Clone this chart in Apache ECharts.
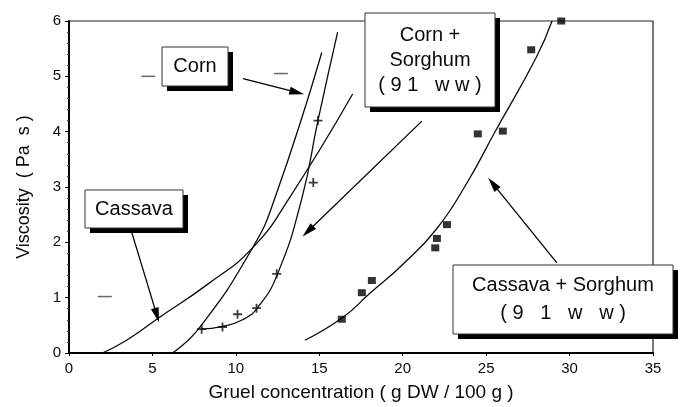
<!DOCTYPE html>
<html>
<head>
<meta charset="utf-8">
<script src="https://cdn.jsdelivr.net/npm/echarts@6/dist/echarts.min.js"></script>
<style>
  html, body { margin: 0; background: #fff; }
  #chart { width: 691px; height: 407px; }
</style>
</head>
<body>
<div id="chart"></div>
<script>
// values (x = g DW / 100 g, y = Pa s)
const cassavaCurve = [[2, 0], [3.45, 0.23], [5.45, 0.65], [8.3, 1.24], [11, 1.9], [13.2, 2.8], [17, 4.68]]
const cornCurve = [[6.2, 0], [7.8, 0.45], [11, 1.9], [12.34, 2.8], [15.15, 5.43]]
const cornSorghumCurve = [[7.9, 0.43], [9.2, 0.48], [10.4, 0.6], [11.3, 0.82], [12.5, 1.43], [13.96, 2.8], [14.92, 4.2], [16.1, 5.8]]
const cornSorghumPoints = [[7.95, 0.43], [9.2, 0.47], [10.1, 0.7], [11.24, 0.81], [12.45, 1.43], [14.64, 3.08], [14.92, 4.2]]
const cassavaSorghumCurve = [[14.14, 0.23], [16.4, 0.64], [18.03, 1.08], [20, 1.6], [22.05, 2.25], [23.9, 3.1], [25.5, 3.98], [28, 5.34], [28.95, 6]]
const cassavaSorghumPoints = [[16.35, 0.61], [17.55, 1.09], [18.15, 1.31], [21.95, 1.9], [22.05, 2.07], [22.65, 2.32], [24.5, 3.96], [26, 4.01], [27.7, 5.48], [29.5, 6.0]]
const strayDashes = [[4.75, 5.0], [2.15, 1.02], [12.7, 5.05]]

// annotation arrows: [from, to] in data units
const arrows = [
  [[10.43, 4.96], [13.66, 4.71]],
  [[3.77, 2.17], [5.27, 0.68]],
  [[21.15, 4.19], [14.32, 2.2]],
  [[29.24, 1.63], [25.4, 3.06]],
]

const xTicks = { min: 0, max: 35, step: 5 }
const yTicks = { min: 0, max: 6, step: 1 }

const font = "'Liberation Sans', Arial, sans-serif"
const ink = '#0a0a0a'

const plus = 'path://M4,0h2v4h4v2h-4v4h-2v-4h-4v-2h4z'

function box(x, y, w, h, lines, lineGap) {
  const children = [
    { type: 'rect', shape: { x: x + 5, y: y + 5, width: w, height: h }, style: { fill: '#000' } },
    { type: 'rect', shape: { x, y, width: w, height: h }, style: { fill: '#fff', stroke: '#333', lineWidth: 1 } },
  ]
  const top = y + h / 2 - (lines.length - 1) * lineGap / 2
  lines.forEach((text, i) => {
    children.push({
      type: 'text',
      x: x + w / 2,
      y: top + i * lineGap,
      style: { text, fill: ink, font: `20px ${font}`, align: 'center', verticalAlign: 'middle' },
    })
  })
  return { type: 'group', children }
}

const axisLabel = { color: ink, fontSize: 15, fontFamily: font }

const lineSeries = (name, data) => ({
  name,
  type: 'line',
  data,
  smooth: 0.5,
  showSymbol: false,
  silent: true,
  lineStyle: { color: ink, width: 1.3 },
  z: 3,
})

const chart = echarts.init(document.getElementById('chart'), null, { renderer: 'canvas' })
chart.setOption({
  animation: false,
  backgroundColor: '#fff',
  grid: { left: 69, right: 38, top: 21, bottom: 51, show: true, borderColor: '#222', borderWidth: 1.2 },
  xAxis: {
    type: 'value',
    min: xTicks.min,
    max: xTicks.max,
    interval: xTicks.step,
    name: 'Gruel concentration ( g DW / 100 g )',
    nameLocation: 'middle',
    nameGap: 30,
    nameTextStyle: { color: ink, fontSize: 19, fontFamily: font },
    axisLine: { lineStyle: { color: '#000', width: 2 } },
    axisTick: { show: true, length: 3, lineStyle: { color: '#000' } },
    axisLabel: { ...axisLabel, margin: 8 },
    splitLine: { show: false },
  },
  yAxis: {
    type: 'value',
    min: yTicks.min,
    max: yTicks.max,
    interval: yTicks.step,
    name: 'Viscosity  ( Pa  s )',
    nameLocation: 'middle',
    nameGap: 36,
    nameTextStyle: { color: ink, fontSize: 18, fontFamily: font },
    axisLine: { lineStyle: { color: '#000', width: 2 } },
    axisTick: { show: true, length: 4, lineStyle: { color: '#000' } },
    minorTick: { show: true, splitNumber: 5, length: 2, lineStyle: { color: '#333' } },
    axisLabel: { ...axisLabel, margin: 8 },
    splitLine: { show: false },
  },
  series: [
    lineSeries('Cassava', cassavaCurve),
    lineSeries('Corn', cornCurve),
    lineSeries('Corn + Sorghum', cornSorghumCurve),
    lineSeries('Cassava + Sorghum', cassavaSorghumCurve),
    {
      name: 'Corn + Sorghum points',
      type: 'scatter',
      data: cornSorghumPoints,
      symbol: plus,
      symbolSize: 9,
      itemStyle: { color: ink },
      silent: true,
      z: 4,
    },
    {
      name: 'Cassava + Sorghum points',
      type: 'scatter',
      data: cassavaSorghumPoints,
      symbol: 'rect',
      symbolSize: [8, 7],
      itemStyle: { color: '#000' },
      clip: false,
      silent: true,
      z: 4,
    },
    {
      name: 'marks',
      type: 'scatter',
      data: strayDashes,
      symbol: 'rect',
      symbolSize: [14, 1.5],
      itemStyle: { color: '#444' },
      silent: true,
    },
    {
      name: 'arrows',
      type: 'line',
      data: [],
      silent: true,
      markLine: {
        silent: true,
        animation: false,
        symbol: ['none', 'triangle'],
        symbolSize: [8, 15],
        label: { show: false },
        lineStyle: { color: '#000', width: 1.3, type: 'solid' },
        data: arrows.map(([from, to]) => [{ coord: from }, { coord: to }]),
      },
      z: 5,
    },
  ],
  graphic: [
    box(162, 47, 66, 39, ['Corn'], 0),
    box(85, 190, 98, 38, ['Cassava'], 0),
    box(365, 13, 130, 94, ['Corn +', 'Sorghum', '( 9 1   w w )'], 25),
    box(453, 265, 220, 69, ['Cassava + Sorghum', '( 9   1   w   w )'], 28),
  ],
})
</script>
</body>
</html>
